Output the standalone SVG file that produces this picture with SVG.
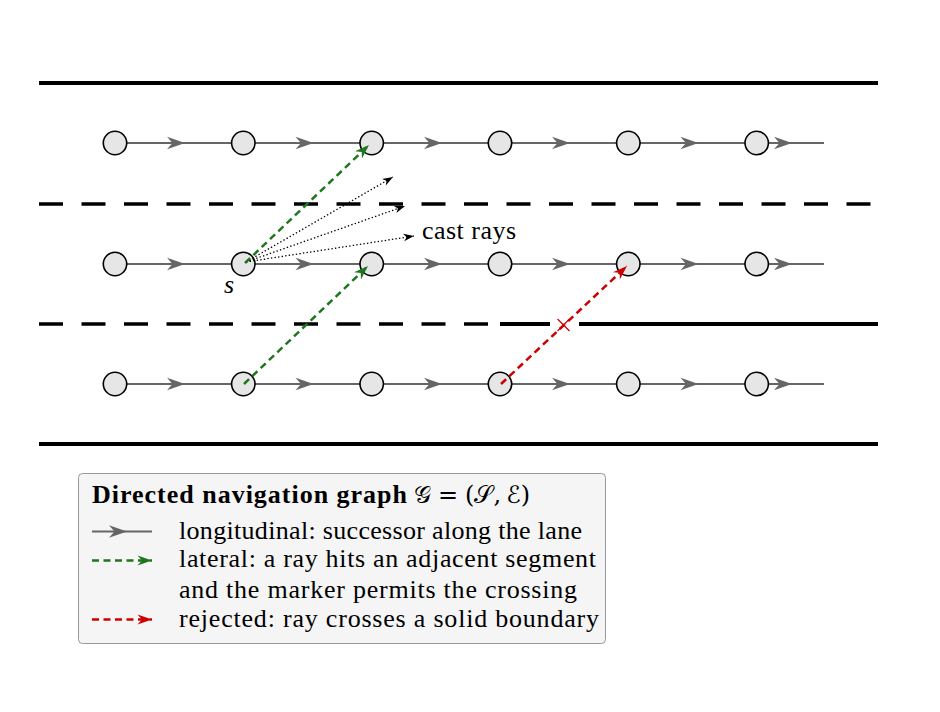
<svg xmlns="http://www.w3.org/2000/svg" width="940" height="712" viewBox="0 0 940 712">
<style>
.road{stroke:#000;stroke-width:4;fill:none}
.dash{stroke:#000;stroke-width:3.4;stroke-dasharray:24 18.5;fill:none}
.lane{stroke:#666;stroke-width:2;fill:none}
.node{fill:#e6e6e6;stroke:#000;stroke-width:1.6}
.lat{stroke:#1f761f;stroke-width:2.5;stroke-dasharray:7 4.5;fill:none}
.rej{stroke:#cc0000;stroke-width:2.5;stroke-dasharray:7 4.5;fill:none}
.ray{stroke:#000;stroke-width:1.3;stroke-dasharray:1.4 2.2;fill:none}
.txt{font-family:"Liberation Serif","Times New Roman",serif;font-size:26px;fill:#000}
.math{font-family:"DejaVu Serif","DejaVu Sans",serif;font-size:24px;fill:#000}
</style>
<defs>
<path id="ga" d="M0,0 L-18,-6.3 L-12.5,0 L-18,6.3 Z" fill="#666"/>
<marker id="mg" viewBox="-16 -6 17 12" refX="0" refY="0" markerWidth="17" markerHeight="12" markerUnits="userSpaceOnUse" orient="auto">
<path d="M0,0 L-14.5,-5 L-10,0 L-14.5,5 Z" fill="#1f761f"/>
</marker>
<marker id="mr" viewBox="-16 -6 17 12" refX="0" refY="0" markerWidth="17" markerHeight="12" markerUnits="userSpaceOnUse" orient="auto">
<path d="M0,0 L-14.5,-5 L-10,0 L-14.5,5 Z" fill="#cc0000"/>
</marker>
<marker id="mk" viewBox="-12 -5 13 10" refX="0" refY="0" markerWidth="13" markerHeight="10" markerUnits="userSpaceOnUse" orient="auto">
<path d="M0,0 L-10.5,-3.8 L-7.5,0 L-10.5,3.8 Z" fill="#000"/>
</marker>
</defs>
<rect width="940" height="712" fill="#fff"/>
<g id="road">
<line class="road" x1="39" y1="83" x2="878" y2="83"/>
<line class="dash" x1="39" y1="204" x2="878" y2="204"/>
<line class="dash" x1="39" y1="324" x2="500" y2="324"/>
<line class="road" x1="500" y1="324" x2="550" y2="324"/>
<line class="road" x1="579" y1="324" x2="878" y2="324"/>
<line class="road" x1="39" y1="444" x2="878" y2="444"/>
</g>
<g id="connectors">
<line class="lane" x1="115" y1="143" x2="824" y2="143"/>
<line class="lane" x1="115" y1="264" x2="824" y2="264"/>
<line class="lane" x1="115" y1="384" x2="824" y2="384"/>
<use href="#ga" x="185" y="143"/><use href="#ga" x="313.5" y="143"/><use href="#ga" x="442" y="143"/><use href="#ga" x="570" y="143"/><use href="#ga" x="698.5" y="143"/><use href="#ga" x="792" y="143"/>
<use href="#ga" x="185" y="264"/><use href="#ga" x="313.5" y="264"/><use href="#ga" x="442" y="264"/><use href="#ga" x="570" y="264"/><use href="#ga" x="698.5" y="264"/><use href="#ga" x="792" y="264"/>
<use href="#ga" x="185" y="384"/><use href="#ga" x="313.5" y="384"/><use href="#ga" x="442" y="384"/><use href="#ga" x="570" y="384"/><use href="#ga" x="698.5" y="384"/><use href="#ga" x="792" y="384"/>
</g>
<g id="nodes">
<g id="n-1-1"><circle class="node" cx="115" cy="143" r="11.7"/></g>
<g id="n-1-2"><circle class="node" cx="243.3" cy="143" r="11.7"/></g>
<g id="n-1-3"><circle class="node" cx="371.7" cy="143" r="11.7"/></g>
<g id="n-1-4"><circle class="node" cx="500" cy="143" r="11.7"/></g>
<g id="n-1-5"><circle class="node" cx="628.3" cy="143" r="11.7"/></g>
<g id="n-1-6"><circle class="node" cx="756.7" cy="143" r="11.7"/></g>
<g id="n-2-1"><circle class="node" cx="115" cy="264" r="11.7"/></g>
<g id="n-2-2"><circle class="node" cx="243.3" cy="264" r="11.7"/></g>
<g id="n-2-3"><circle class="node" cx="371.7" cy="264" r="11.7"/></g>
<g id="n-2-4"><circle class="node" cx="500" cy="264" r="11.7"/></g>
<g id="n-2-5"><circle class="node" cx="628.3" cy="264" r="11.7"/></g>
<g id="n-2-6"><circle class="node" cx="756.7" cy="264" r="11.7"/></g>
<g id="n-3-1"><circle class="node" cx="115" cy="384" r="11.7"/></g>
<g id="n-3-2"><circle class="node" cx="243.3" cy="384" r="11.7"/></g>
<g id="n-3-3"><circle class="node" cx="371.7" cy="384" r="11.7"/></g>
<g id="n-3-4"><circle class="node" cx="500" cy="384" r="11.7"/></g>
<g id="n-3-5"><circle class="node" cx="628.3" cy="384" r="11.7"/></g>
<g id="n-3-6"><circle class="node" cx="756.7" cy="384" r="11.7"/></g>
</g>
<g id="lateral-connectors">
<line class="ray" x1="246" y1="262" x2="393" y2="177" marker-end="url(#mk)"/>
<line class="ray" x1="246" y1="262" x2="405" y2="206" marker-end="url(#mk)"/>
<line class="ray" x1="246" y1="262" x2="414" y2="236" marker-end="url(#mk)"/>
<line class="lat" x1="245" y1="263" x2="369" y2="145" marker-end="url(#mg)"/>
<line class="lat" x1="244" y1="384" x2="368" y2="266" marker-end="url(#mg)"/>
<line class="rej" x1="501" y1="384" x2="627" y2="266" marker-end="url(#mr)"/>
<path d="M557.5,319 L569.5,331 M569.5,319 L557.5,331" stroke="#cc0000" stroke-width="1.2" fill="none"/>
</g>
<g id="labels">
<text class="txt" x="422" y="238.5" textLength="94" lengthAdjust="spacing">cast rays</text>
<text class="txt" x="224" y="293" font-style="italic">s</text>
</g>
<g id="legend">
<rect x="78.5" y="473.5" width="527" height="170" rx="4" fill="#f5f5f5" stroke="#999" stroke-width="1"/>
<text class="txt" x="92" y="503" font-weight="bold" textLength="315" lengthAdjust="spacing">Directed navigation graph</text>
<text class="math" x="414" y="503"><tspan>𝒢</tspan><tspan dx="7">=</tspan><tspan dx="7">(</tspan><tspan>𝒮</tspan><tspan>,</tspan><tspan dx="5">ℰ</tspan><tspan>)</tspan></text>
<line class="lane" x1="92" y1="531.5" x2="152" y2="531.5"/>
<use href="#ga" x="127" y="531.5"/>
<line class="lat" x1="92" y1="560.5" x2="152" y2="560.5" marker-end="url(#mg)"/>
<line class="rej" x1="92" y1="619.5" x2="152" y2="619.5" marker-end="url(#mr)"/>
<text class="txt" x="179" y="538.5" textLength="403" lengthAdjust="spacing">longitudinal: successor along the lane</text>
<text class="txt" x="179" y="567" textLength="417" lengthAdjust="spacing">lateral: a ray hits an adjacent segment</text>
<text class="txt" x="179" y="597.5" textLength="398" lengthAdjust="spacing">and the marker permits the crossing</text>
<text class="txt" x="179" y="626.5" textLength="420" lengthAdjust="spacing">rejected: ray crosses a solid boundary</text>
</g>
</svg>
